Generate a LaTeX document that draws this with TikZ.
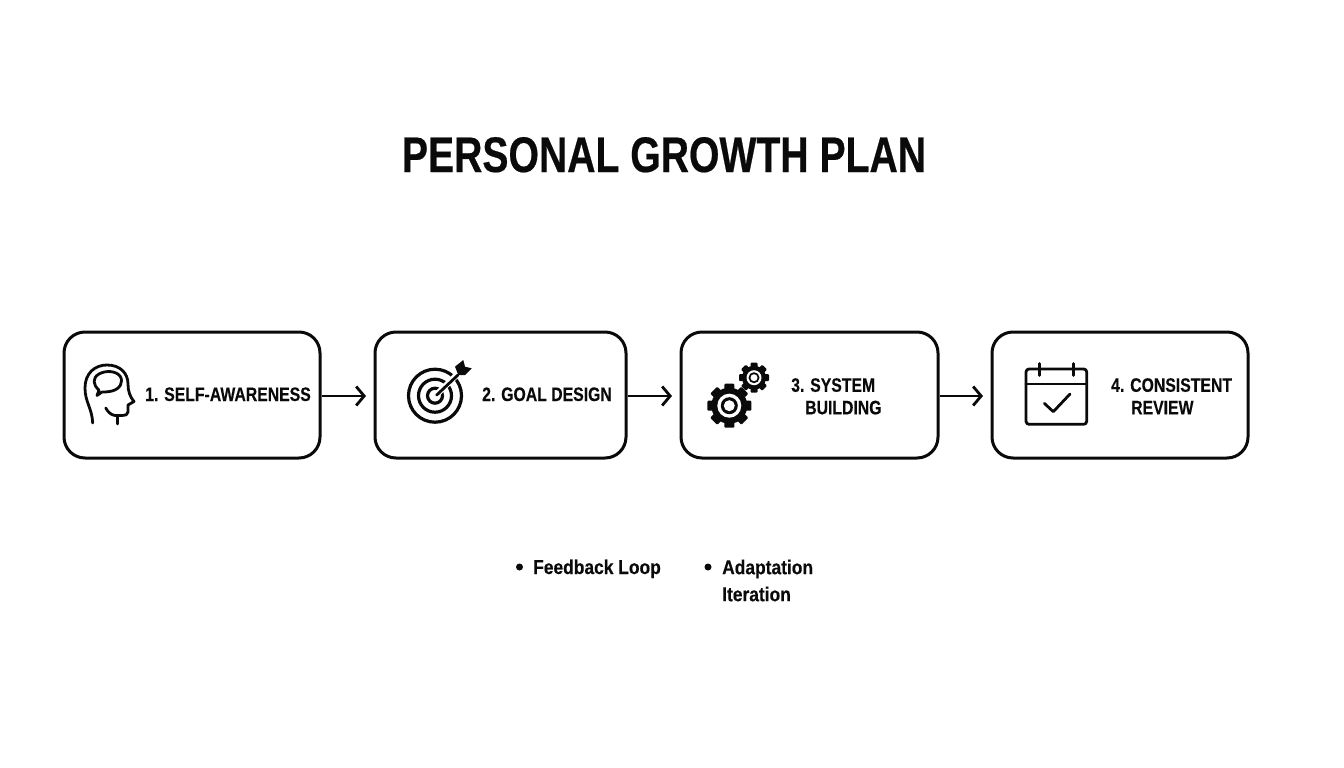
\documentclass[tikz,border=0pt]{standalone}
\usepackage{fontspec}
\usetikzlibrary{arrows.meta}
\setmainfont{Liberation Sans}
\newfontfamily\TitleFont[FakeStretch=0.783,FakeBold=0.4]{Liberation Sans Bold}
\newfontfamily\LabelFont[FakeStretch=0.81,FakeBold=0.25]{Liberation Sans Bold}
\newfontfamily\NoteFont[FakeStretch=0.87,FakeBold=0.25]{Liberation Sans Bold}
\definecolor{K}{RGB}{10,10,10}
\def\Xscale{1344}
\def\Yscale{768}
\tikzset{
    Box/.style={draw=K,line width=3pt,rounded corners=21pt,minimum height=126pt,inner sep=0pt},
    Flow/.style={K,line width=2.8pt,-{Straight Barb[length=8pt,width=19pt,line width=2.8pt]}},
    Label/.style={K,anchor=base west,inner sep=0pt,font=\LabelFont\fontsize{19.5}{22.5}\selectfont,align=left},
    Note/.style={K,anchor=base west,inner sep=0pt,font=\NoteFont\fontsize{20}{27}\selectfont,align=left},
    Dot/.style={circle,fill=K,inner sep=0pt,minimum size=7pt},
    Icon/.style={K,line width=2.8pt,line cap=round,line join=round},
}
% a black cog: centre, outer radius, root radius, tooth width
\newcommand{\GearIcon}[4]{
    \fill[K] (#1) circle (#3);
    \foreach \A in {0,45,...,315} {
        \fill[K,shift={(#1)},rotate=\A,rounded corners=1pt] (-#4/2,0) rectangle (#4/2,#2);
    }
}
\begin{document}
\begin{tikzpicture}[x=1pt,y=-1pt]
    \path[use as bounding box] (0,0) rectangle (\Xscale,\Yscale);
    \node[K,inner sep=0pt,anchor=base,font=\TitleFont\fontsize{50}{60}\selectfont] (Title) at (664,172) {PERSONAL GROWTH PLAN};

    \node[Box,minimum width=256pt] (Box1) at (192,395) {};
    \node[Box,minimum width=251pt] (Box2) at (500.5,395) {};
    \node[Box,minimum width=257pt] (Box3) at (809.5,395) {};
    \node[Box,minimum width=256pt] (Box4) at (1120,395) {};

    \coordinate (Tip1) at (366,396);
    \coordinate (Tip2) at (672,396);
    \coordinate (Tip3) at (983,396);
    \draw[Flow] (Box1.east|-Tip1) -- (Tip1);
    \draw[Flow] (Box2.east|-Tip2) -- (Tip2);
    \draw[Flow] (Box3.east|-Tip3) -- (Tip3);

    \node[Label] (Text1) at (145,401) {1. SELF-AWARENESS};
    \node[Label] (Text2) at (482,401) {2. GOAL DESIGN};
    \node[Label,anchor=north west] (Text3) at (791,378) {3. SYSTEM\\\hspace*{14pt}BUILDING};
    \node[Label,anchor=north west] (Text4) at (1111,378) {4. CONSISTENT\\\hspace*{20pt}REVIEW};

    % head
    \draw[Icon] (92.7,423) .. controls (92,408) and (85,402) .. (85,388)
        .. controls (85,373) and (95,365) .. (107,365)
        .. controls (120,365) and (128,373) .. (128,384)
        .. controls (128,391) and (130,397) .. (134,401.5)
        -- (128,405) -- (128,412) .. controls (128,415) and (125,415.5) .. (122,415.5)
        -- (115,415.5) .. controls (111,415) and (108,412) .. (105.7,408);
    \draw[Icon] (117.3,417) -- (117.3,424);
    \draw[Icon] (99,390) .. controls (93,385) and (92,378) .. (99,374)
        .. controls (106,370) and (116,371) .. (120,376)
        .. controls (124,382) and (120,389) .. (112,391)
        .. controls (108,392) and (104,392) .. (102,392) -- (97,395.5) -- (99,390);

    % target
    \draw[K,line width=3.2pt] (435,395.7) circle (26.5);
    \draw[K,line width=3.2pt] (435,395.7) circle (16.5);
    \draw[K,line width=3.2pt] (435,395.7) circle (7.5);
    \draw[white,line width=6pt] (438,393) -- (462,370);
    \draw[K,line width=2.8pt,line cap=round] (436.7,395) -- (458,375);
    \fill[K] (455,366.7) -- (463.3,360) -- (465,366.7) -- (471.7,368.3) -- (465,375) -- (458.3,375) -- cycle;

    % cogs
    \GearIcon{729.3,405.7}{22}{18}{10}
    \fill[white] (729.3,405.7) circle (12);
    \fill[K] (729.3,405.7) circle (8.5);
    \fill[white] (729.3,405.7) circle (5.5);
    \GearIcon{754,377.7}{15}{12}{7}
    \fill[white] (754,377.7) circle (7.5);
    \fill[K] (754,377.7) circle (5.5);
    \fill[white] (754,377.7) circle (3.5);

    % calendar
    \draw[Icon,rounded corners=3pt] (1026,369) rectangle (1086.7,424.3);
    \draw[Icon] (1026,384) -- (1086.7,384);
    \draw[Icon] (1039.3,363.5) -- (1039.3,375.5);
    \draw[Icon] (1073.7,363.5) -- (1073.7,375.5);
    \draw[Icon] (1044.3,403.3) -- (1053.3,411.7) -- (1070,394);

    \node[Dot] (Dot1) at (519.5,567) {};
    \node[Dot] (Dot2) at (708,567) {};
    \node[Note] (Note1) at (533,574) {Feedback Loop};
    \node[Note,anchor=north west] (Note2) at (722,559.5) {Adaptation\\Iteration};
\end{tikzpicture}
\end{document}
